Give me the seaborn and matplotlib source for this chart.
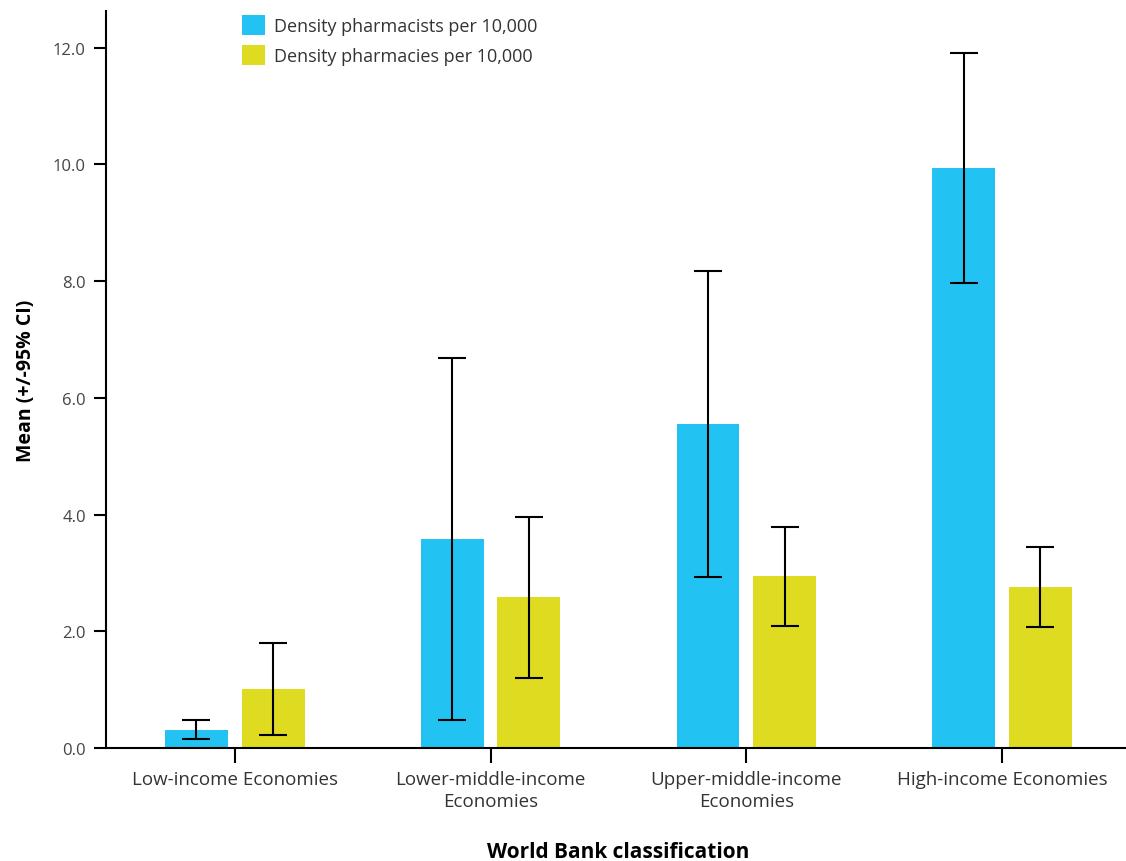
import matplotlib
matplotlib.use("Agg")
import matplotlib.pyplot as plt
import seaborn as sns
import pandas as pd
import numpy as np

# Income groups and series
categories = ["Low-income Economies", "Lower-middle-income\nEconomies",
              "Upper-middle-income\nEconomies", "High-income Economies"]
series = ["Density pharmacists per 10,000", "Density pharmacies per 10,000"]

pharmacists_mean = [0.31, 3.58, 5.55, 9.94]
pharmacists_low = [0.15, 0.48, 2.93, 7.97]
pharmacists_high = [0.48, 6.69, 8.18, 11.91]

pharmacies_mean = [1.01, 2.59, 2.95, 2.76]
pharmacies_low = [0.22, 1.20, 2.09, 2.07]
pharmacies_high = [1.80, 3.96, 3.79, 3.45]

yticks = [0.0, 2.0, 4.0, 6.0, 8.0, 10.0, 12.0]
colors = ["#22c3f2", "#dedb20"]

df = pd.DataFrame({
    "group": categories * 2,
    "series": [series[0]] * 4 + [series[1]] * 4,
    "mean": pharmacists_mean + pharmacies_mean,
    "low": pharmacists_low + pharmacies_low,
    "high": pharmacists_high + pharmacies_high,
})

sns.set_theme(style="ticks")
plt.rcParams["font.family"] = ["Open Sans", "DejaVu Sans"]

fig = plt.figure(figsize=(11.26, 8.62), dpi=100)
ax = fig.add_axes([0.0941, 0.1311, 0.9094, 0.855])

sns.barplot(data=df, x="group", y="mean", hue="series", order=categories,
            hue_order=series, palette=colors, width=0.6, gap=0.18,
            errorbar=None, saturation=1, ax=ax, linewidth=0)

# Confidence intervals centred on each bar
for container, s in zip(ax.containers, series):
    sub = df[df["series"] == s].set_index("group").loc[categories]
    xs = [p.get_x() + p.get_width() / 2 for p in container.patches]
    lo = sub["mean"].values - sub["low"].values
    hi = sub["high"].values - sub["mean"].values
    ax.errorbar(xs, sub["mean"].values, yerr=[lo, hi], fmt="none",
                ecolor="black", elinewidth=1.5, capsize=10, capthick=1.5,
                zorder=3)

ax.set_xlim(-0.504, 3.5)
ax.set_ylim(0, 12.63)
ax.set_yticks(yticks)
ax.set_yticklabels([f"{v:.1f}" for v in yticks])

for side in ["top", "right"]:
    ax.spines[side].set_visible(False)
for side in ["left", "bottom"]:
    ax.spines[side].set_linewidth(1.5)
    ax.spines[side].set_color("black")

ax.tick_params(axis="y", length=8.5, width=1.5, color="black",
               labelsize=12, labelcolor="#444444", pad=6)
ax.tick_params(axis="x", length=11, width=1.5, color="black",
               labelsize=13.5, labelcolor="#333333", pad=5)
for lbl in ax.get_xticklabels():
    lbl.set_linespacing(1.3)

ax.set_ylabel("Mean (+/-95% CI)", fontsize=14, fontweight="bold",
              color="black", labelpad=12)
ax.set_xlabel("World Bank classification", fontsize=15, fontweight="bold",
              color="black", labelpad=22)

ax.legend(loc="upper left", bbox_to_anchor=(0.1257, 1.004), frameon=False,
          fontsize=13, labelcolor="#333333", handlelength=1.27,
          handleheight=1.3, handletextpad=0.5, labelspacing=0.55,
          borderaxespad=0.0, title=None)

fig.savefig("out.png", dpi=100)
